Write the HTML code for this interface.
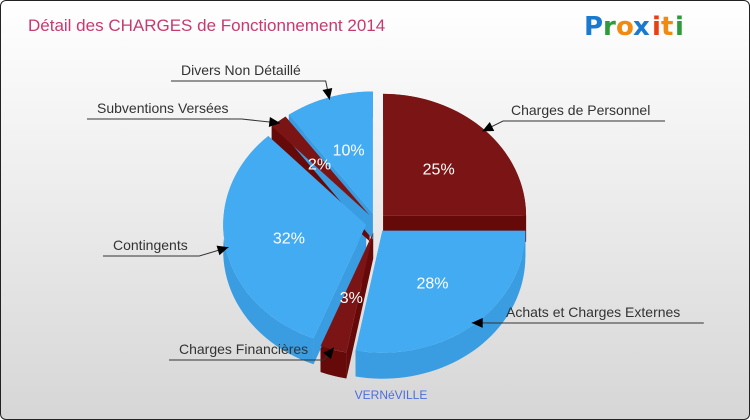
<!DOCTYPE html>
<html><head><meta charset="utf-8">
<style>
html,body{margin:0;padding:0;}
body{width:750px;height:420px;overflow:hidden;font-family:"Liberation Sans",sans-serif;}
#frame{position:absolute;left:0;top:0;width:748px;height:418px;border:1px solid #222;border-radius:6px;background:linear-gradient(#ffffff,#f3f3f3 30%,#d6d6d6);overflow:hidden;}
</style></head>
<body>
<div id="frame">
<svg id="chart" width="750" height="420" style="position:absolute;left:0;top:0">
<text x="27" y="30" font-size="17" fill="#c8396f">Détail des CHARGES de Fonctionnement 2014</text>
<g font-family="'DejaVu Sans',sans-serif" font-weight="bold" font-size="26">
<text x="583" y="34" fill="#1a7ad0">P</text><text x="602" y="34" fill="#2e9a3a">r</text><text x="615" y="34" fill="#f08a10">o</text><text x="632" y="34" fill="#1a7ad0">x</text><text x="651" y="34" fill="#e84010">i</text><text x="660" y="34" fill="#f08a10">t</text><text x="674" y="34" fill="#2e9a3a">i</text>
</g>
<text x="390" y="398" font-size="12" fill="#4a6ee0" text-anchor="middle">VERNéVILLE</text>
<g id="slices"></g>
<g id="labels"></g>
</svg>
</div>
<script>
const categories = ["Charges de Personnel","Achats et Charges Externes","Charges Financières","Contingents","Subventions Versées","Divers Non Détaillé"];
const values = [25,28,3,32,2,10];
const pctLabels = ["25%","28%","3%","32%","2%","10%"];
const colors = ["red","blue","red","blue","red","blue"];
const labelPos = [[510,114,"start"],[505,316,"start"],[178,353,"start"],[112,249,"start"],[96,112,"start"],[180,74,"start"]];

const NS="http://www.w3.org/2000/svg";
const cx=375,cy=222,rx=143,ry=122,depth=26,explode=10;
const palette={red:{top:"#7b1515",side:"#650909"},blue:{top:"#43abf2",side:"#3a9de2"}};
const total=values.reduce((a,b)=>a+b,0);
function pt(th,r1,r2,ox,oy){return [cx+ox+r1*Math.sin(th), cy+oy-r2*Math.cos(th)];}
const gS=document.getElementById('slices'), gL=document.getElementById('labels');
let acc=0; const geo=[];
values.forEach((v,i)=>{
  const a0=acc/total*2*Math.PI, a1=(acc+v)/total*2*Math.PI; acc+=v;
  const m=(a0+a1)/2;
  const ox=explode*Math.sin(m), oy=-explode*Math.cos(m);
  geo.push({a0,a1,m,ox,oy});
});
geo.forEach((g,i)=>{
  const top=[],bot=[];
  const n=40;
  for(let k=0;k<=n;k++){const t=g.a0+(g.a1-g.a0)*k/n;top.push(pt(t,rx,ry,g.ox,g.oy));}
  for(let k=n;k>=0;k--){const t=g.a0+(g.a1-g.a0)*k/n;const p=pt(t,rx,ry,g.ox,g.oy);bot.push([p[0],p[1]+depth]);}
  const c=pt(0,0,0,g.ox,g.oy);
  const side=document.createElementNS(NS,'polygon');
  side.setAttribute('points',top.concat(bot).map(p=>p.join(',')).join(' '));
  side.setAttribute('fill',palette[colors[i]].side);
  
  
  gS.appendChild(side);
  const inner=document.createElementNS(NS,'polygon');
  const e0=pt(g.a0,rx,ry,g.ox,g.oy), e1=pt(g.a1,rx,ry,g.ox,g.oy);
  inner.setAttribute('points',[c,[c[0],c[1]+depth],[e0[0],e0[1]+depth],e0].map(p=>p.join(',')).join(' ')+' '+[c,[c[0],c[1]+depth],[e1[0],e1[1]+depth],e1].map(p=>p.join(',')).join(' '));
  inner.setAttribute('fill',palette[colors[i]].side);
  
  
  gS.appendChild(inner);
});
geo.forEach((g,i)=>{
  const c=pt(0,0,0,g.ox,g.oy);
  const p0=pt(g.a0,rx,ry,g.ox,g.oy), p1=pt(g.a1,rx,ry,g.ox,g.oy);
  const large=(g.a1-g.a0)>Math.PI?1:0;
  const path=document.createElementNS(NS,'path');
  path.setAttribute('d',`M${c[0]},${c[1]} L${p0[0]},${p0[1]} A${rx},${ry} 0 ${large} 1 ${p1[0]},${p1[1]} Z`);
  path.setAttribute('fill',palette[colors[i]].top);
  
  
  gS.appendChild(path);
  const lp=pt(g.m,rx*0.55,ry*0.55,g.ox,g.oy);
  const t=document.createElementNS(NS,'text');
  t.setAttribute('x',lp[0]);t.setAttribute('y',lp[1]+6);
  t.setAttribute('text-anchor','middle');t.setAttribute('font-size','16');t.setAttribute('fill','#fff');
  t.textContent=pctLabels[i];
  
  
  gS.appendChild(t);
});
geo.forEach((g,i)=>{
  const [lx,ly]=labelPos[i];
  const t=document.createElementNS(NS,'text');
  t.setAttribute('x',lx);t.setAttribute('y',ly);t.setAttribute('font-size','14');t.setAttribute('fill','#333');
  t.textContent=categories[i];
  
  
  gL.appendChild(t);
  const w=categories[i].length*7.3;
  const tip=pt(g.m,rx*0.98,ry*0.98,g.ox,g.oy);
  const right=tip[0]>cx;
  const ux= right? lx-8 : lx+w+6;
  const farx= right? lx+w+8 : lx-10;
  const line=document.createElementNS(NS,'polyline');
  line.setAttribute('points',`${farx},${ly+6} ${ux},${ly+6} ${tip[0]},${tip[1]}`);
  line.setAttribute('fill','none');line.setAttribute('stroke','#333');line.setAttribute('stroke-width','1');
  
  
  gL.appendChild(line);
  const ang=Math.atan2(tip[1]-(ly+6),tip[0]-ux);
  const L=11,W=5;
  const bx=tip[0]-L*Math.cos(ang),by=tip[1]-L*Math.sin(ang);
  const ar=document.createElementNS(NS,'polygon');
  ar.setAttribute('points',`${tip[0]},${tip[1]} ${bx-W*Math.sin(ang)},${by+W*Math.cos(ang)} ${bx+W*Math.sin(ang)},${by-W*Math.cos(ang)}`);
  ar.setAttribute('fill','#000');
  
  
  gL.appendChild(ar);
});
</script>
</body></html>
